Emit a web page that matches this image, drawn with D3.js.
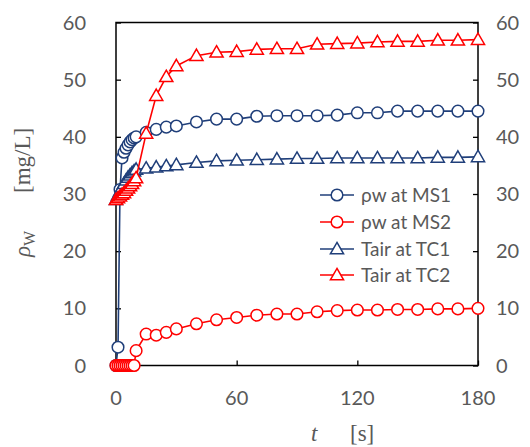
<!DOCTYPE html>
<html><head><meta charset="utf-8">
<script src="https://cdn.jsdelivr.net/npm/d3@7"></script>
<style>body{margin:0;background:#fff}svg{display:block}</style>
</head><body><svg id="c" width="530" height="447"></svg>
<script>
const times = [0,1,2,3,4,5,6,7,8,9,10,15,20,25,30,40,50,60,70,80,90,100,110,120,130,140,150,160,170,180];
const ms1 = [0,3.2,30.8,36.3,37.3,38.0,38.6,39.1,39.5,39.8,40.0,40.8,41.3,41.7,41.9,42.6,43.1,43.1,43.6,43.7,43.7,43.7,43.8,44.2,44.2,44.5,44.5,44.5,44.5,44.5];
const ms2 = [0,0,0,0,0,0,0,0,0,0,2.6,5.5,5.3,5.8,6.4,7.3,8.0,8.4,8.8,9.0,9.0,9.4,9.6,9.7,9.7,9.8,9.8,9.9,9.9,10.0];
const tc1 = [29.0,29.8,30.5,31.2,31.8,32.4,32.9,33.3,33.7,34.0,34.3,34.5,34.7,34.9,35.1,35.5,35.8,35.9,36.0,36.1,36.2,36.2,36.3,36.3,36.3,36.3,36.3,36.4,36.4,36.5];
const tc2 = [29.0,29.3,29.6,29.9,30.2,30.6,31.0,31.4,31.8,32.3,32.8,40.6,47.2,50.5,52.4,54.2,54.8,54.9,55.3,55.4,55.4,56.2,56.3,56.4,56.6,56.7,56.7,56.9,56.9,57.0];
const seriesNames = ["\u03c1w at MS1","\u03c1w at MS2","Tair at TC1","Tair at TC2"];
const xTicks = [0,60,120,180];
const yTicks = [0,10,20,30,40,50,60];

const navy = "#203F7A", red = "#FF0000", gray = "#595959";
const series = [
  {name: seriesNames[0], vals: ms1, color: navy, shape: "circle"},
  {name: seriesNames[1], vals: ms2, color: red, shape: "circle"},
  {name: seriesNames[2], vals: tc1, color: navy, shape: "tri"},
  {name: seriesNames[3], vals: tc2, color: red, shape: "tri"}
];

const svg = d3.select("#c");
const L = 116, R = 478, T = 22.5, B = 365.5;
const x = d3.scaleLinear().domain([0,180]).range([L,R]);
const y = d3.scaleLinear().domain([0,60]).range([B,T]);
const font = "Lato, 'Open Sans', sans-serif";

// axes
const left = svg.append("g").attr("transform",`translate(${L},0)`)
  .call(d3.axisRight(y).tickValues(yTicks).tickSize(5).tickFormat(""));
const right = svg.append("g").attr("transform",`translate(${R},0)`)
  .call(d3.axisLeft(y).tickValues(yTicks).tickSize(5).tickFormat(""));
const bottom = svg.append("g").attr("transform",`translate(0,${B})`)
  .call(d3.axisTop(x).tickValues(xTicks).tickSize(5).tickFormat(""));
[left,right,bottom].forEach(g=>{g.select(".domain").remove();g.selectAll("line").attr("stroke","#000").attr("stroke-width",1.3);});
svg.append("rect").attr("x",L).attr("y",T).attr("width",R-L).attr("height",B-T)
  .attr("fill","none").attr("stroke","#000").attr("stroke-width",1.5);

// tick labels
const fs = 20;
svg.append("g").selectAll("text").data(yTicks).join("text")
  .attr("x",86).attr("y",d=>y(d)).attr("dy","0.35em").attr("text-anchor","end")
  .attr("font-family",font).attr("font-size",fs).attr("fill",gray).text(d=>d);
svg.append("g").selectAll("text").data(yTicks).join("text")
  .attr("x",496).attr("y",d=>y(d)).attr("dy","0.35em").attr("text-anchor","start")
  .attr("font-family",font).attr("font-size",fs).attr("fill",gray).text(d=>d);
svg.append("g").selectAll("text").data(xTicks).join("text")
  .attr("x",d=>x(d)).attr("y",398).attr("dy","0.35em").attr("text-anchor","middle")
  .attr("font-family",font).attr("font-size",fs).attr("fill",gray).text(d=>d);

// axis titles
const serif = "'Liberation Serif', 'DejaVu Serif', serif";
const xt = svg.append("text").attr("x",311).attr("y",441).attr("text-anchor","start")
  .attr("font-family",serif).attr("font-size",23).attr("fill",gray);
xt.append("tspan").attr("font-style","italic").text("t");
xt.append("tspan").attr("x",350).text("[s]");
const yt = svg.append("text").attr("transform","translate(30,257) rotate(-90)").attr("text-anchor","start")
  .attr("font-family",serif).attr("font-size",23).attr("fill",gray);
yt.append("tspan").attr("font-style","italic").text("\u03c1");
yt.append("tspan").attr("font-size",16).attr("dy",5).text("W");
yt.append("tspan").attr("dy",-5).attr("x",64).text("[mg/L]");

// series
const line = d3.line().x((d,i)=>x(times[i])).y(d=>y(d));
const triPath = d3.symbol().type(d3.symbolTriangle).size(75)();
function marker(g, shape, color){
  if(shape==="circle"){
    g.append("circle").attr("r",5.8).attr("fill","#fff").attr("stroke",color).attr("stroke-width",1.5);
  } else {
    g.append("path").attr("d",triPath).attr("transform","translate(0,1)").attr("fill","#fff").attr("stroke",color).attr("stroke-width",1.5);
  }
}
series.forEach(s=>{
  const g = svg.append("g");
  g.append("path").datum(s.vals).attr("d",line).attr("fill","none").attr("stroke",s.color).attr("stroke-width",1.6);
  s.vals.forEach((v,i)=>{
    const m = g.append("g").attr("transform",`translate(${x(times[i])},${y(v)})`);
    marker(m, s.shape, s.color);
  });
});

// legend
const lg = svg.append("g");
const ly = [195,222,249,275];
series.forEach((s,i)=>{
  const g = lg.append("g").attr("transform",`translate(0,${ly[i]})`);
  g.append("line").attr("x1",320).attr("x2",354).attr("y1",0).attr("y2",0).attr("stroke",s.color).attr("stroke-width",1.6);
  const m = g.append("g").attr("transform","translate(337,0)");
  marker(m, s.shape, s.color);
  g.append("text").attr("x",361).attr("y",0).attr("dy","0.35em").attr("font-family",font)
    .attr("font-size",19).attr("fill",gray).text(s.name);
});
</script></body></html>
